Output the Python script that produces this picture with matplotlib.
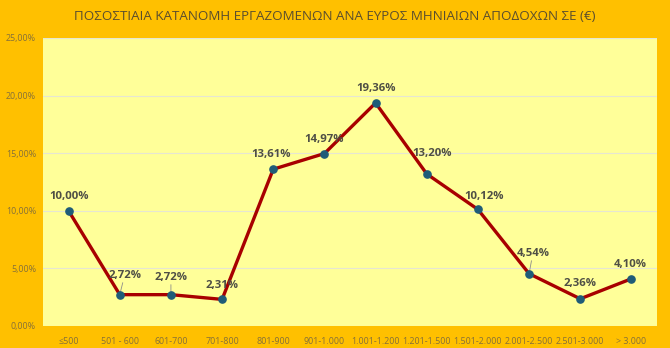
import matplotlib.pyplot as plt
from matplotlib.ticker import FuncFormatter

plt.rcParams['font.family'] = ['Open Sans', 'DejaVu Sans']

# Salary bands (EUR) and share of employees (%)
bands = ['≤500', '501 - 600', '601-700', '701-800', '801-900', '901-1.000',
         '1.001-1.200', '1.201-1.500', '1.501-2.000', '2.001-2.500',
         '2.501-3.000', '> 3.000']
shares = [10.00, 2.72, 2.72, 2.31, 13.61, 14.97, 19.36, 13.20, 10.12, 4.54, 2.36, 4.10]

# label offsets in pixels (dx, dy) from each point, and which ones get a leader line
label_offsets = [(0, 14), (5, 19), (0, 17), (0, 14), (-2, 15), (0, 14),
                 (0, 14), (5, 20), (6, 13), (4, 20), (0, 15), (-1, 14)]
leaders = [False, True, True, False, False, False,
           False, False, False, True, False, False]

def pct(v):
    return f'{v:.2f}'.replace('.', ',') + '%'

fig = plt.figure(figsize=(6.70, 3.48), dpi=100, facecolor='#FFC000')
ax = fig.add_axes([43 / 670, 22 / 348, 614 / 670, 288 / 348])
ax.set_facecolor('#FFFF99')

x = list(range(len(bands)))
ax.plot(x, shares, color='#A80000', linewidth=2.4, zorder=3)
ax.plot(x, shares, linestyle='none', marker='o', markersize=5.2,
        color='#1F5C78', zorder=4)

for xi, v, (dx, dy), lead in zip(x, shares, label_offsets, leaders):
    if lead:
        ax.annotate('', (xi, v), xytext=(dx * 0.6, dy - 7), textcoords='offset pixels',
                    arrowprops=dict(arrowstyle='-', color='#8C8C8C', lw=0.6,
                                    shrinkA=0, shrinkB=2), zorder=2)
    ax.annotate(pct(v), (xi, v), xytext=(dx, dy), textcoords='offset pixels',
                ha='center', va='center', fontsize=8.2, fontweight='bold',
                color='#4F4F45', zorder=5)

ax.set_xlim(-0.5, len(bands) - 0.5)
ax.set_ylim(0, 25)
ax.set_yticks([0, 5, 10, 15, 20, 25])
ax.yaxis.set_major_formatter(FuncFormatter(lambda v, _: pct(v)))
ax.set_xticks(x)
ax.set_xticklabels(bands)
ax.tick_params(axis='both', length=0, labelsize=6.4, labelcolor='#85703A')
ax.tick_params(axis='x', pad=8)
ax.tick_params(axis='y', pad=5)
ax.grid(axis='y', color='#E6E6D2', linewidth=0.8)
ax.set_axisbelow(True)
for s in ax.spines.values():
    s.set_visible(False)

fig.text(0.5, 1 - 17 / 348,
         'ΠΟΣΟΣΤΙΑΙΑ ΚΑΤΑΝΟΜΗ ΕΡΓΑΖΟΜΕΝΩΝ ΑΝΑ ΕΥΡΟΣ ΜΗΝΙΑΙΩΝ ΑΠΟΔΟΧΩΝ ΣΕ (€)',
         ha='center', va='center', fontsize=9.6, color='#5A4E2E')

fig.savefig('out.png', dpi=100, facecolor=fig.get_facecolor())
